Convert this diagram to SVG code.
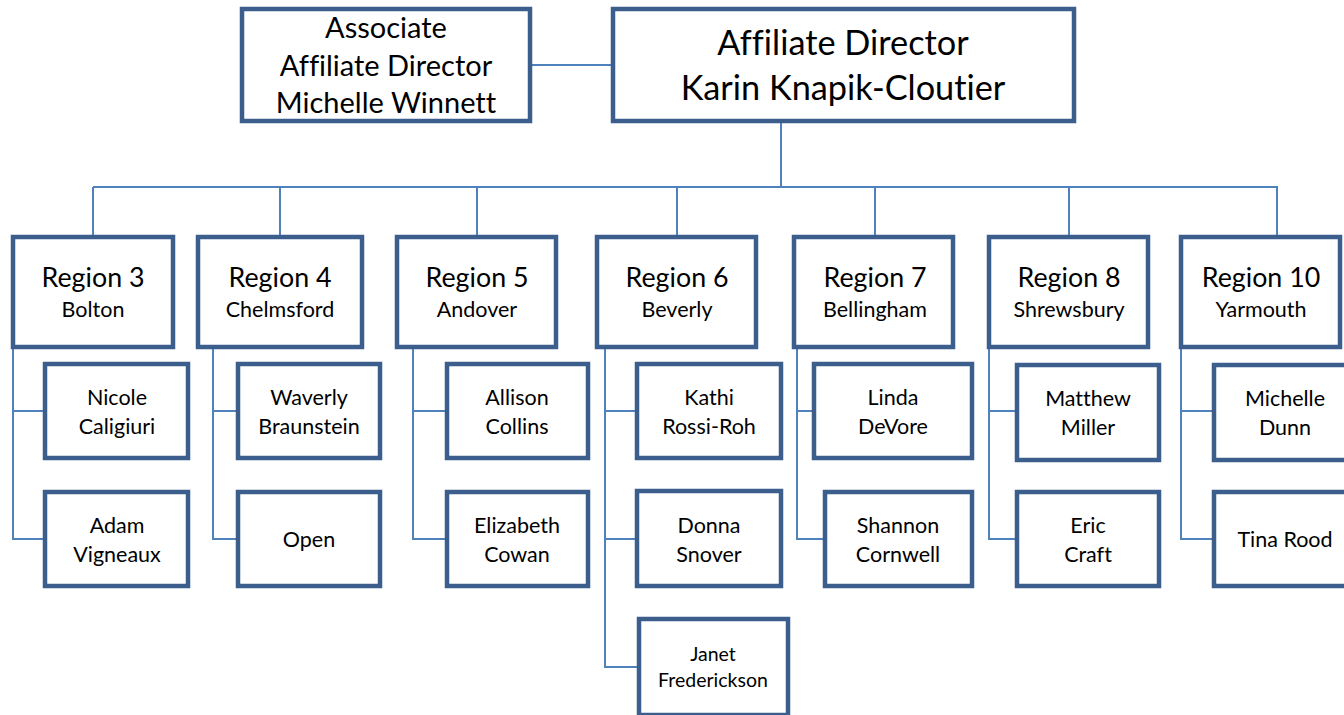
<svg xmlns="http://www.w3.org/2000/svg" width="1344" height="715" viewBox="0 0 1344 715">
<style>
.box{fill:#fff;stroke:#3b5e8c;stroke-width:4.5}
.ln{fill:none;stroke:#4f81bd;stroke-width:2}
text{font-family:Lato,"Open Sans","Liberation Sans",sans-serif;fill:#000;text-anchor:middle;font-variant-ligatures:none}
.t1{font-size:29px}
.t0{font-size:34.3px}
.rt{font-size:26.8px}
.rs{font-size:21.5px}
.c{font-size:21.5px}
.cs{font-size:19.5px}
</style>
<rect width="1344" height="715" fill="#fff"/>
<g id="connectors">
<path class="ln" d="M532 65H611"/>
<path class="ln" d="M781 123V187M93 187H1278M93 187V235M280 187V235M477 187V235M677 187V235M875 187V235M1069 187V235M1277 187V235"/>
<path class="ln" d="M13 348V539H43M13 411H43"/>
<path class="ln" d="M213 348V539H236M213 411H236"/>
<path class="ln" d="M413 348V539H445M413 411H445"/>
<path class="ln" d="M605 348V667H637M605 411H635M605 539H635"/>
<path class="ln" d="M797 348V539H823M797 411H812"/>
<path class="ln" d="M989 348V539H1015M989 411H1015"/>
<path class="ln" d="M1181 348V539H1212M1181 411H1212"/>
</g>
<g id="assoc"><rect class="box" x="242" y="9" width="288" height="112"/>
<text class="t1" x="386" y="38">Associate</text><text class="t1" x="386" y="76">Affiliate Director</text><text class="t1" x="386" y="113">Michelle Winnett</text></g>
<g id="director"><rect class="box" x="613" y="9" width="461" height="112"/>
<text class="t0" x="843" y="55">Affiliate Director</text><text class="t0" x="843" y="100">Karin Knapik-Cloutier</text></g>

<g id="r3"><rect class="box" x="13" y="237" width="160" height="110"/><text class="rt" x="93" y="287">Region 3</text><text class="rs" x="93" y="317">Bolton</text></g>
<g id="r4"><rect class="box" x="198" y="237" width="164" height="110"/><text class="rt" x="280" y="287">Region 4</text><text class="rs" x="280" y="317">Chelmsford</text></g>
<g id="r5"><rect class="box" x="397" y="237" width="159" height="110"/><text class="rt" x="477" y="287">Region 5</text><text class="rs" x="477" y="317">Andover</text></g>
<g id="r6"><rect class="box" x="597" y="237" width="159" height="110"/><text class="rt" x="677" y="287">Region 6</text><text class="rs" x="677" y="317">Beverly</text></g>
<g id="r7"><rect class="box" x="794" y="237" width="159" height="110"/><text class="rt" x="875" y="287">Region 7</text><text class="rs" x="875" y="317">Bellingham</text></g>
<g id="r8"><rect class="box" x="989" y="237" width="159" height="110"/><text class="rt" x="1069" y="287">Region 8</text><text class="rs" x="1069" y="317">Shrewsbury</text></g>
<g id="r10"><rect class="box" x="1181" y="237" width="159" height="110"/><text class="rt" x="1261" y="287">Region 10</text><text class="rs" x="1261" y="317">Yarmouth</text></g>

<g id="nicole"><rect class="box" x="45" y="364" width="143" height="94"/><text class="c" x="117" y="405">Nicole</text><text class="c" x="117" y="434">Caligiuri</text></g>
<g id="adam"><rect class="box" x="45" y="492" width="143" height="94"/><text class="c" x="117" y="533">Adam</text><text class="c" x="117" y="562">Vigneaux</text></g>
<g id="waverly"><rect class="box" x="238" y="364" width="142" height="94"/><text class="c" x="309" y="405">Waverly</text><text class="c" x="309" y="434">Braunstein</text></g>
<g id="open"><rect class="box" x="238" y="492" width="142" height="94"/><text class="c" x="309" y="547">Open</text></g>
<g id="allison"><rect class="box" x="447" y="364" width="141" height="94"/><text class="c" x="517" y="405">Allison</text><text class="c" x="517" y="434">Collins</text></g>
<g id="elizabeth"><rect class="box" x="447" y="492" width="141" height="94"/><text class="c" x="517" y="533">Elizabeth</text><text class="c" x="517" y="562">Cowan</text></g>
<g id="kathi"><rect class="box" x="637" y="364" width="144" height="94"/><text class="c" x="709" y="405">Kathi</text><text class="c" x="709" y="434">Rossi-Roh</text></g>
<g id="donna"><rect class="box" x="637" y="491" width="144" height="95"/><text class="c" x="709" y="533">Donna</text><text class="c" x="709" y="562">Snover</text></g>
<g id="janet"><rect class="box" x="639" y="619" width="149" height="96"/><text class="cs" x="713" y="661">Janet</text><text class="cs" x="713" y="687">Frederickson</text></g>
<g id="linda"><rect class="box" x="814" y="364" width="158" height="94"/><text class="c" x="893" y="405">Linda</text><text class="c" x="893" y="434">DeVore</text></g>
<g id="shannon"><rect class="box" x="825" y="492" width="147" height="94"/><text class="c" x="898" y="533">Shannon</text><text class="c" x="898" y="562">Cornwell</text></g>
<g id="matthew"><rect class="box" x="1017" y="365" width="142" height="95"/><text class="c" x="1088" y="406">Matthew</text><text class="c" x="1088" y="435">Miller</text></g>
<g id="eric"><rect class="box" x="1017" y="492" width="142" height="94"/><text class="c" x="1088" y="533">Eric</text><text class="c" x="1088" y="562">Craft</text></g>
<g id="michelle"><rect class="box" x="1214" y="365" width="146" height="95"/><text class="c" x="1285" y="406">Michelle</text><text class="c" x="1285" y="435">Dunn</text></g>
<g id="tina"><rect class="box" x="1214" y="492" width="146" height="94"/><text class="c" x="1285" y="547">Tina Rood</text></g>
</svg>
